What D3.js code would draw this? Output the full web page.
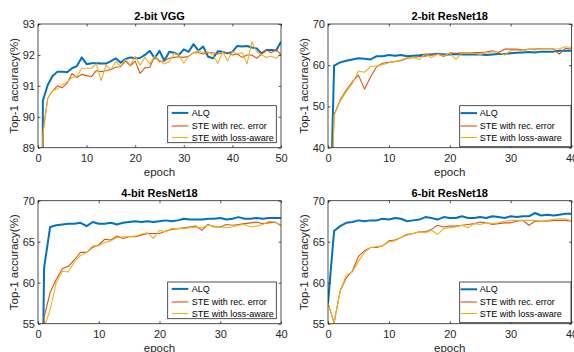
<!DOCTYPE html>
<html><head><meta charset="utf-8">
<script src="https://cdn.jsdelivr.net/npm/d3@7/dist/d3.min.js"></script>
<style>
html,body{margin:0;padding:0;background:#fff;}
svg{display:block;font-family:"Liberation Sans",Arial,Helvetica,sans-serif;}
</style></head><body>
<svg id="c" width="574" height="352"></svg>
<script>
// ---------- data ----------
const seriesNames = ["ALQ", "STE with rec. error", "STE with loss-aware"];
const titles = ["2-bit VGG", "2-bit ResNet18", "4-bit ResNet18", "6-bit ResNet18"];
const xTicksVGG = [0, 10, 20, 30, 40, 50];
const xTicksRes = [0, 10, 20, 30, 40];
const yTicksVGG = [89, 90, 91, 92, 93];
const yTicksR2 = [40, 50, 60, 70];
const yTicksR4 = [55, 60, 65, 70];
const yTicksR6 = [55, 60, 65, 70];

// values per epoch (index = epoch)
const vggALQ = [10, 90.52, 91.03, 91.32, 91.46, 91.46, 91.44, 91.57, 91.64, 91.92, 91.70, 91.73, 91.73, 91.72, 91.72, 91.80, 91.89, 91.75, 91.87, 91.92, 91.89, 91.90, 92.00, 92.13, 91.89, 92.13, 91.81, 92.10, 92.07, 92.00, 92.18, 92.10, 92.35, 92.14, 92.27, 91.94, 91.89, 92.12, 92.10, 92.05, 92.10, 92.29, 92.27, 92.29, 92.24, 92.21, 92.05, 92.16, 92.16, 92.14, 92.43];
const vggRec = [10, 89.5, 90.6, 90.84, 91.0, 90.94, 91.08, 91.4, 91.27, 91.37, 91.33, 91.3, 91.49, 91.46, 91.49, 91.53, 91.6, 91.62, 91.81, 91.65, 91.8, 91.4, 91.58, 91.6, 91.96, 91.78, 91.81, 91.89, 91.92, 91.94, 91.92, 91.96, 92.07, 92.07, 92.03, 92.07, 92.07, 92.03, 92.07, 92.07, 92.0, 92.03, 91.92, 92.0, 92.0, 91.89, 92.03, 92.16, 92.07, 92.18, 92.0];
const vggLoss = [10, 89.4, 90.6, 90.85, 90.9, 91.03, 91.13, 91.27, 91.3, 91.57, 91.57, 91.57, 91.71, 91.17, 91.67, 91.53, 91.78, 91.64, 91.86, 91.67, 91.96, 91.67, 91.92, 91.71, 91.96, 91.83, 91.71, 91.78, 92.05, 92.0, 91.73, 91.96, 92.07, 92.14, 92.07, 92.1, 92.0, 91.73, 92.1, 91.81, 92.1, 92.03, 92.07, 91.71, 92.43, 92.1, 92.0, 91.92, 91.96, 91.89, 92.03];

const r2ALQ = [0.1, 59.9, 60.7, 61.1, 61.4, 61.7, 61.6, 61.4, 62.2, 62.2, 62.5, 62.3, 62.5, 62.2, 62.3, 62.4, 62.6, 62.6, 62.8, 62.6, 62.6, 62.7, 62.6, 62.6, 62.6, 62.6, 62.5, 62.6, 62.7, 62.7, 62.9, 63.0, 63.1, 63.2, 63.1, 63.3, 63.3, 63.3, 63.5, 63.5, 63.5];
const r2Rec = [0.1, 48.0, 51.6, 54.0, 56.0, 57.6, 54.2, 57.2, 59.7, 60.5, 60.7, 60.9, 61.1, 61.7, 61.9, 62.1, 62.2, 62.5, 62.7, 62.1, 63.0, 62.9, 63.0, 63.0, 63.1, 63.1, 63.2, 63.5, 63.1, 63.9, 63.9, 63.9, 63.7, 63.9, 63.9, 64.0, 64.0, 64.0, 62.7, 64.1, 63.9];
const r2Loss = [0.1, 47.8, 51.3, 53.6, 55.6, 58.6, 58.3, 59.7, 59.8, 60.1, 60.6, 60.9, 61.3, 61.8, 61.9, 61.4, 62.9, 61.8, 62.7, 62.3, 62.9, 61.4, 62.9, 63.0, 62.9, 62.6, 63.0, 63.2, 63.2, 62.5, 63.5, 63.7, 63.5, 63.9, 63.7, 63.9, 64.0, 63.9, 64.0, 64.5, 64.3];

const r4ALQ = [0.1, 61.8, 66.8, 67.0, 67.1, 67.2, 67.2, 67.3, 66.9, 67.4, 67.2, 67.2, 67.3, 67.1, 67.3, 67.4, 67.5, 67.4, 67.5, 67.4, 67.5, 67.6, 67.5, 67.6, 67.8, 67.7, 67.7, 67.7, 67.8, 67.8, 67.9, 67.7, 67.8, 68.0, 67.8, 67.8, 67.9, 67.8, 67.9, 67.9, 67.9];
const r4Rec = [0.1, 55.8, 58.8, 60.4, 61.7, 62.0, 62.8, 63.7, 63.7, 64.3, 64.6, 65.3, 65.2, 65.7, 65.4, 65.6, 65.6, 65.8, 66.0, 66.0, 66.0, 66.3, 66.5, 66.6, 66.7, 66.8, 66.9, 66.4, 67.1, 66.8, 66.8, 67.1, 67.0, 67.1, 67.2, 67.3, 67.4, 67.2, 67.3, 67.4, 67.0];
const r4Loss = [0.1, 54.5, 56.7, 60.0, 61.4, 61.3, 62.6, 63.3, 63.7, 64.5, 64.5, 64.9, 65.1, 65.5, 65.6, 65.6, 65.7, 65.9, 66.1, 65.4, 66.4, 66.2, 66.6, 66.6, 66.6, 66.7, 66.8, 66.7, 67.0, 66.9, 66.8, 66.7, 66.8, 67.0, 67.1, 66.8, 66.9, 67.1, 67.5, 67.4, 66.9];

const r6ALQ = [57.5, 66.3, 66.9, 67.3, 67.4, 67.6, 67.5, 67.6, 67.6, 67.8, 67.7, 67.9, 67.8, 67.5, 67.6, 67.7, 68.0, 67.9, 67.7, 68.0, 67.9, 67.9, 68.1, 67.9, 67.9, 68.0, 67.9, 68.1, 68.0, 67.9, 68.1, 68.0, 68.1, 68.1, 68.5, 68.2, 68.3, 68.2, 68.3, 68.4, 68.4];
const r6Rec = [57.5, 55.1, 59.0, 60.6, 61.4, 63.2, 63.9, 64.3, 64.3, 64.5, 65.1, 65.2, 65.5, 65.9, 66.0, 66.2, 66.2, 66.5, 67.0, 66.8, 66.9, 66.9, 67.0, 67.1, 67.2, 67.4, 67.3, 67.1, 67.2, 67.3, 67.3, 67.5, 67.6, 67.0, 67.5, 67.5, 67.5, 67.6, 67.6, 67.6, 67.5];
const r6Loss = [57.5, 55.1, 59.0, 60.9, 61.3, 62.6, 63.7, 64.3, 64.4, 64.5, 65.0, 65.1, 65.5, 65.8, 66.0, 66.2, 66.1, 66.4, 65.9, 66.6, 66.7, 66.8, 67.0, 66.7, 67.2, 67.1, 67.3, 67.2, 67.3, 67.5, 67.6, 67.6, 67.6, 67.6, 67.6, 67.5, 67.6, 67.7, 67.8, 67.8, 67.5];

// ---------- layout / style ----------
const colors = ["#0072BD", "#D95319", "#EDB120"];
const widths = [2, 1.1, 1.1];
const axisColor = "#262626";

const panels = [
  {title: titles[0], xDom: [0, 50], xTicks: xTicksVGG, yDom: [89, 93], yTicks: yTicksVGG,
   series: [vggALQ, vggRec, vggLoss], L: 38, R: 281, T: 24, B: 147.7,
   leg: {x: 167.7, y: 105.7, w: 108.6, h: 37, s0: 171.7, s1: 188.3, tx: 191.7, rows: [112.9, 126, 137.5]}},
  {title: titles[1], xDom: [0, 40], xTicks: xTicksRes, yDom: [40, 70], yTicks: yTicksR2,
   series: [r2ALQ, r2Rec, r2Loss], L: 328, R: 571.5, T: 24, B: 147.7,
   leg: {x: 459.7, y: 105.7, w: 111.3, h: 41, s0: 460.6, s1: 477, tx: 479.7, rows: [113.1, 126, 137.5]}},
  {title: titles[2], xDom: [0, 40], xTicks: xTicksRes, yDom: [55, 70], yTicks: yTicksR4,
   series: [r4ALQ, r4Rec, r4Loss], L: 38, R: 281, T: 200.7, B: 323.7,
   leg: {x: 167.7, y: 282, w: 108.6, h: 36.7, s0: 171.7, s1: 188.3, tx: 191.7, rows: [288.9, 302, 313.5]}},
  {title: titles[3], xDom: [0, 40], xTicks: xTicksRes, yDom: [55, 70], yTicks: yTicksR6,
   series: [r6ALQ, r6Rec, r6Loss], L: 328, R: 571.5, T: 200.7, B: 323.7,
   leg: {x: 459.7, y: 282, w: 111.3, h: 40.7, s0: 460.6, s1: 477, tx: 479.7, rows: [289.3, 302, 313.5]}}
];

const svg = d3.select("#c");
const tickLen = 2.5;
const fmt = d3.format("d");

panels.forEach((p, pi) => {
  const x = d3.scaleLinear().domain(p.xDom).range([p.L, p.R]);
  const y = d3.scaleLinear().domain(p.yDom).range([p.B, p.T]);
  const g = svg.append("g");

  const clipId = "clip" + pi;
  svg.append("clipPath").attr("id", clipId).append("rect")
    .attr("x", p.L).attr("y", p.T).attr("width", p.R - p.L).attr("height", p.B - p.T);

  // lines
  const line = d3.line().x((d, i) => x(i)).y(d => y(d));
  const lg = g.append("g").attr("clip-path", `url(#${clipId})`);
  p.series.forEach((s, si) => {
    lg.append("path").datum(s).attr("d", line)
      .attr("fill", "none").attr("stroke", colors[si]).attr("stroke-width", widths[si])
      .attr("stroke-linejoin", "round");
  });

  // axes
  const styleAxis = sel => {
    sel.select(".domain").remove();
    sel.selectAll(".tick line").attr("stroke", axisColor).attr("stroke-width", 0.8);
    sel.selectAll(".tick text").attr("fill", axisColor).attr("font-size", 11)
      .attr("font-family", '"Liberation Sans",Arial,Helvetica,sans-serif');
  };
  g.append("g").attr("transform", `translate(0,${p.B})`)
    .call(d3.axisBottom(x).tickValues(p.xTicks).tickFormat(fmt).tickSizeInner(-tickLen).tickSizeOuter(0).tickPadding(6.5))
    .call(styleAxis);
  g.append("g").attr("transform", `translate(0,${p.T})`)
    .call(d3.axisTop(x).tickValues(p.xTicks).tickSizeInner(-tickLen).tickSizeOuter(0).tickFormat(""))
    .call(styleAxis);
  g.append("g").attr("transform", `translate(${p.L},0)`)
    .call(d3.axisLeft(y).tickValues(p.yTicks).tickFormat(fmt).tickSizeInner(-tickLen).tickSizeOuter(0).tickPadding(3))
    .call(styleAxis);
  g.append("g").attr("transform", `translate(${p.R},0)`)
    .call(d3.axisRight(y).tickValues(p.yTicks).tickSizeInner(-tickLen).tickSizeOuter(0).tickFormat(""))
    .call(styleAxis);

  // box
  g.append("rect").attr("x", p.L).attr("y", p.T).attr("width", p.R - p.L).attr("height", p.B - p.T)
    .attr("fill", "none").attr("stroke", axisColor).attr("stroke-width", 0.8);

  // title
  g.append("text").attr("x", (p.L + p.R) / 2).attr("y", p.T - 3.6)
    .attr("text-anchor", "middle").attr("font-size", 11).attr("font-weight", "bold")
    .attr("fill", "#000").text(p.title);

  // axis labels
  g.append("text").attr("x", (p.L + p.R) / 2).attr("y", p.B + 27.8)
    .attr("text-anchor", "middle").attr("font-size", 11.5).attr("fill", axisColor).text("epoch");
  g.append("text")
    .attr("transform", `translate(${p.L - 20},${(p.T + p.B) / 2}) rotate(-90)`)
    .attr("text-anchor", "middle").attr("font-size", 11.5).attr("fill", axisColor)
    .text("Top-1 accuracy(%)");

  // legend
  const L = p.leg;
  g.append("rect").attr("x", L.x).attr("y", L.y).attr("width", L.w).attr("height", L.h)
    .attr("fill", "#fff").attr("stroke", axisColor).attr("stroke-width", 0.8);
  seriesNames.forEach((n, si) => {
    g.append("line").attr("x1", L.s0).attr("x2", L.s1).attr("y1", L.rows[si]).attr("y2", L.rows[si])
      .attr("stroke", colors[si]).attr("stroke-width", widths[si]);
    g.append("text").attr("x", L.tx).attr("y", L.rows[si]).attr("dy", "0.35em")
      .attr("font-size", 9).attr("fill", "#000").text(n);
  });
});
</script>
</body></html>
